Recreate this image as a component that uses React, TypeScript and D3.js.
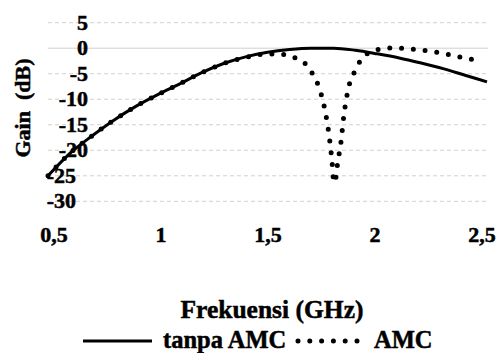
import React, { useEffect, useRef } from "react";
import * as d3 from "d3";

// frequency (GHz) / gain (dB)
const freqTanpa = [0.5, 0.6, 0.7, 0.8, 0.9, 1.0, 1.1, 1.2, 1.3, 1.4, 1.5, 1.6, 1.7, 1.8, 1.9, 2.0, 2.1, 2.2, 2.3, 2.4, 2.5];
const gainTanpa = [-25, -20.6, -17.2, -14.1, -11.4, -9.1, -7.0, -4.8, -3.0, -1.7, -0.8, -0.25, 0, 0, -0.4, -1.1, -1.9, -2.9, -4.0, -5.3, -6.6];

const freqAmc = [0.5, 0.6, 0.7, 0.8, 0.9, 1.0, 1.1, 1.2, 1.3, 1.42, 1.47, 1.53, 1.58, 1.636, 1.68, 1.71, 1.735, 1.75, 1.762, 1.78, 1.793, 1.803, 1.811, 1.818, 1.835, 1.847, 1.864, 1.876, 1.9, 1.925, 1.97, 2.02, 2.08, 2.13, 2.19, 2.24, 2.3, 2.35, 2.41, 2.47];
const gainAmc = [-25, -20.6, -17.2, -14.1, -11.4, -9.1, -7.0, -4.8, -3.0, -1.6, -1.2, -1.15, -1.25, -2.1, -3.4, -5.4, -7.7, -9.9, -12.2, -16.9, -21.7, -26.3, -25.5, -23.0, -18.3, -13.5, -8.8, -6.6, -4.4, -2.3, -0.74, -0.15, 0.05, -0.1, -0.3, -0.6, -1.0, -1.5, -2.0, -2.6];

const xTicks = [0.5, 1, 1.5, 2, 2.5];
const xTickLabels = ["0,5", "1", "1,5", "2", "2,5"];
const yTicks = [5, 0, -5, -10, -15, -20, -25, -30];

const seriesNames = ["tanpa AMC", "AMC"];

export default function App() {
  const ref = useRef<SVGSVGElement | null>(null);

  useEffect(() => {
    const svg = d3.select(ref.current);
    svg.selectAll("*").remove();

    const font = "'Liberation Serif', 'Times New Roman', serif";

    const x = d3.scaleLinear().domain([0.5, 2.5]).range([48, 487]);
    const xLab = d3.scaleLinear().domain([0.5, 2.5]).range([54, 482]);
    const y = d3.scaleLinear().domain([-30, 5]).range([201.3, 22.7]);

    // grid
    svg.append("g")
      .selectAll("line")
      .data(yTicks)
      .join("line")
      .attr("x1", 48)
      .attr("x2", 488)
      .attr("y1", (d) => y(d))
      .attr("y2", (d) => y(d))
      .attr("stroke", "#d0d0d0")
      .attr("stroke-width", 1)
      .attr("stroke-dasharray", (d) => (d === 0 ? null : "4,3"));

    const addText = (g, tx, ty, txt, size, anchor) =>
      g.append("text")
        .attr("x", tx)
        .attr("y", ty)
        .attr("text-anchor", anchor)
        .style("font-family", font)
        .style("font-weight", "bold")
        .style("font-size", size + "px")
        .attr("fill", "#000")
        .attr("stroke", "#000")
        .attr("stroke-width", 0.5)
        .text(txt);

    // y tick labels
    const yl = svg.append("g");
    yTicks.forEach((v) => {
      addText(yl, v <= -25 ? 76 : 88, y(v) + 7, String(v), 22, "end");
    });

    // x tick labels
    const xl = svg.append("g");
    xTicks.forEach((v, i) => {
      addText(xl, xLab(v), 242, xTickLabels[i], 22, "middle");
    });

    // lines
    const line = d3.line<number>()
      .x((d) => x(d))
      .curve(d3.curveMonotoneX);

    svg.append("path")
      .attr("d", line.y((d, i) => y(gainTanpa[i]))(freqTanpa))
      .attr("fill", "none")
      .attr("stroke", "#000")
      .attr("stroke-width", 3);

    svg.append("path")
      .attr("d", line.y((d, i) => y(gainAmc[i]))(freqAmc))
      .attr("fill", "none")
      .attr("stroke", "#000")
      .attr("stroke-width", 5)
      .attr("stroke-linecap", "round")
      .attr("stroke-dasharray", "0,11.8");

    // axis titles
    svg.append("text")
      .attr("transform", "translate(30,108) rotate(-90)")
      .attr("text-anchor", "middle")
      .style("font-family", font)
      .style("font-weight", "bold")
      .style("font-size", "22px")
      .attr("stroke", "#000")
      .attr("stroke-width", 0.5)
      .style("white-space", "pre")
      .text("Gain  (dB)");

    addText(svg, 272, 318, "Frekuensi (GHz)", 25.5, "middle");

    // legend
    const lg = svg.append("g");
    lg.append("line")
      .attr("x1", 83).attr("x2", 152)
      .attr("y1", 341).attr("y2", 341)
      .attr("stroke", "#000").attr("stroke-width", 3);
    addText(lg, 163, 348, seriesNames[0], 24.5, "start");
    lg.append("line")
      .attr("x1", 298).attr("x2", 363)
      .attr("y1", 341).attr("y2", 341)
      .attr("stroke", "#000").attr("stroke-width", 5)
      .attr("stroke-linecap", "round")
      .attr("stroke-dasharray", "0,11.8");
    addText(lg, 374, 348, seriesNames[1], 24.5, "start");
  }, []);

  return (
    <svg
      ref={ref}
      width={498}
      height={353}
      style={{ position: "absolute", left: 0, top: 0, background: "#fff" }}
    />
  );
}
